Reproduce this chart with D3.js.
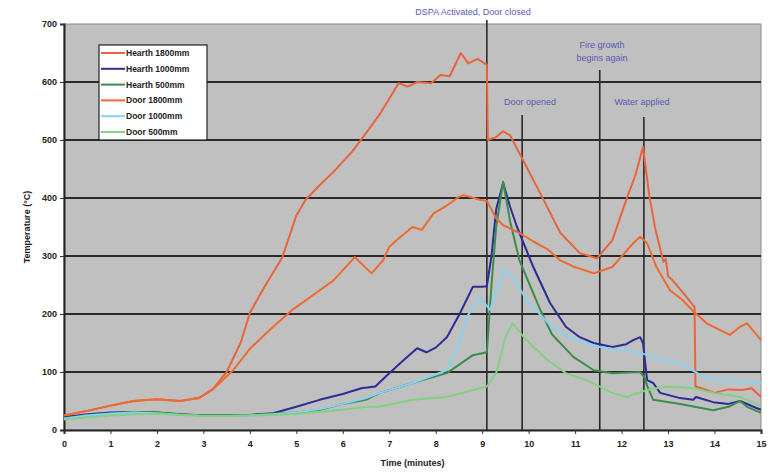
<!DOCTYPE html>
<html>
<head>
<meta charset="utf-8">
<script src="https://cdn.jsdelivr.net/npm/d3@7"></script>
<style>
body { margin: 0; background: #fff; }
svg text { font-family: "Liberation Sans", Arial, sans-serif; }
</style>
</head>
<body>
<svg id="chart" width="773" height="473"></svg>
<script>
const hearth1800 = [[0,25],[0.5,33],[1,42],[1.5,50],[2,53],[2.5,50],[2.9,55],[3.2,70],[3.5,100],[3.8,150],[4.0,202],[4.3,245],[4.7,298],[5.0,370],[5.2,397],[5.5,422],[5.8,445],[6.2,480],[6.5,512],[6.8,545],[7.2,598],[7.4,592],[7.6,600],[7.9,598],[8.1,612],[8.3,610],[8.54,650],[8.7,632],[8.9,640],[9.05,632],[9.1,630],[9.12,500],[9.3,505],[9.45,515],[9.6,508],[9.88,465],[10.25,408],[10.68,340],[11.1,305],[11.47,296],[11.8,327],[12.1,397],[12.3,440],[12.46,488],[12.6,402],[12.73,345],[12.9,290],[12.95,295],[13.0,265],[13.1,258],[13.4,229],[13.57,212],[13.59,75],[13.8,70],[14.0,64],[14.3,70],[14.6,69],[14.8,72],[15,57]]
const hearth1000 = [[0,22],[0.5,27],[1,30],[1.5,31],[2,30],[2.5,27],[3,25],[3.5,25],[4,26],[4.5,29],[5,40],[5.5,52],[6,62],[6.4,72],[6.7,75],[7.0,98],[7.3,120],[7.6,141],[7.8,134],[8.0,142],[8.24,160],[8.52,201],[8.8,247],[9.0,247],[9.1,248],[9.2,300],[9.3,380],[9.45,426],[9.6,385],[9.75,350],[10.1,281],[10.46,219],[10.8,178],[11.1,160],[11.4,150],[11.8,143],[12.1,148],[12.25,155],[12.4,160],[12.46,150],[12.55,86],[12.68,81],[12.83,64],[13.26,55],[13.54,52],[13.6,57],[13.97,48],[14.3,45],[14.55,50],[14.9,38],[15,35]]
const hearth500 = [[0,20],[0.5,26],[1,29],[1.5,31],[2,30],[2.5,27],[3,25],[3.5,25],[4,26],[4.5,28],[5,30],[5.5,35],[6,45],[6.5,52],[6.8,64],[7.5,81],[8.24,98],[8.8,129],[9.1,134],[9.2,250],[9.3,350],[9.45,428],[9.6,360],[9.8,293],[10.25,207],[10.5,165],[10.96,126],[11.4,103],[11.8,98],[12.4,100],[12.5,90],[12.55,76],[12.68,52],[13.26,45],[13.97,34],[14.3,40],[14.55,50],[14.7,40],[14.9,33],[15,30]]
const door1800 = [[0,25],[0.5,33],[1,42],[1.5,50],[2,53],[2.5,50],[2.9,55],[3.2,70],[3.64,103],[4.0,140],[4.5,178],[4.93,208],[5.4,235],[5.8,258],[6.26,298],[6.62,270],[6.87,293],[7.0,316],[7.2,330],[7.5,350],[7.7,345],[7.95,373],[8.2,385],[8.5,402],[8.6,405],[8.95,397],[9.1,395],[9.3,365],[9.45,353],[9.8,340],[10.1,325],[10.4,312],[10.67,293],[10.96,282],[11.4,270],[11.8,281],[12.25,322],[12.4,333],[12.55,322],[12.75,281],[13.04,241],[13.3,225],[13.54,205],[13.83,184],[14.33,164],[14.55,178],[14.7,184],[15,155]]
const door1000 = [[0,20],[0.5,25],[1,28],[1.5,30],[2,29],[2.5,26],[3,24],[3.5,24],[4,25],[4.5,27],[5,30],[5.5,36],[6,45],[6.5,55],[6.8,64],[7.5,81],[8.24,103],[8.5,150],[8.67,195],[8.95,229],[9.17,207],[9.3,240],[9.5,276],[9.67,264],[9.95,224],[10.5,178],[11.0,155],[11.53,143],[12.4,133],[12.68,126],[13.26,115],[13.7,95],[13.97,88],[14.55,83],[14.9,81],[15,80]]
const door500 = [[0,18],[0.5,22],[1,25],[1.5,27],[2,28],[2.5,26],[3,24],[3.5,24],[4,25],[4.5,26],[5,28],[5.5,31],[6,35],[6.5,40],[6.8,40],[7.5,52],[8.24,57],[8.8,69],[9.1,75],[9.3,98],[9.5,160],[9.65,184],[9.95,155],[10.4,121],[10.8,98],[11.25,86],[11.8,64],[12.1,57],[12.55,69],[12.98,75],[13.54,72],[13.97,64],[14.55,57],[14.9,45],[15,42]]

const seriesNames = ['Hearth 1800mm', 'Hearth 1000mm', 'Hearth 500mm', 'Door 1800mm', 'Door 1000mm', 'Door 500mm']
const seriesData = [hearth1800, hearth1000, hearth500, door1800, door1000, door500]
const seriesColors = ['#e8643c', '#2c2c96', '#3c8c4c', '#ee6a30', '#86d2f0', '#84d084']

const xTicks = d3.range(0, 16)
const yTicks = [0, 100, 200, 300, 400, 500, 600, 700]
const eventTimes = [9.1, 9.86, 11.53, 12.48]
const eventTops = [20, 115, 70, 117]
const eventLabels = [['DSPA  Activated, Door closed'], ['Door opened'], ['Fire growth', 'begins again'], ['Water applied']]

const svg = d3.select('#chart')
const m = { top: 24, left: 64, right: 12, bottom: 43 }
const w = 773, h = 473
const x = d3.scaleLinear().domain([0, 15]).range([m.left, w - m.right])
const y = d3.scaleLinear().domain([0, 700]).range([h - m.bottom, m.top])

// plot area
svg.append('rect').attr('x', x(0)).attr('y', y(700)).attr('width', x(15) - x(0)).attr('height', y(0) - y(700))
  .attr('fill', '#c0c0c0').attr('stroke', '#8a8a8a').attr('stroke-width', 1)

svg.append('g').selectAll('line').data(yTicks.filter(d => d > 0 && d < 700)).enter().append('line')
  .attr('x1', x(0)).attr('x2', x(15)).attr('y1', d => y(d)).attr('y2', d => y(d))
  .attr('stroke', '#2a2a2a').attr('stroke-width', 2)

// axes
const yAxis = svg.append('g').attr('transform', `translate(${x(0)},0)`)
  .call(d3.axisLeft(y).tickValues(yTicks).tickSize(4).tickFormat(d3.format('d')))
const xAxis = svg.append('g').attr('transform', `translate(0,${y(0)})`)
  .call(d3.axisBottom(x).tickValues(xTicks).tickSize(4).tickFormat(d3.format('d')))
;[yAxis, xAxis].forEach(a => {
  a.select('.domain').attr('stroke', '#222').attr('stroke-width', 2)
  a.selectAll('.tick line').attr('stroke', '#333')
  a.selectAll('text').attr('font-size', 9).attr('font-weight', 'bold').attr('fill', '#222')
})
xAxis.selectAll('text').attr('dy', '1.1em')

// event lines
svg.append('g').selectAll('line').data(eventTimes).enter().append('line')
  .attr('x1', d => x(d)).attr('x2', d => x(d)).attr('y1', (d, i) => eventTops[i]).attr('y2', y(0))
  .attr('stroke', '#2a2a2a').attr('stroke-width', 1.6)

// series
const line = d3.line().x(d => x(d[0])).y(d => y(d[1]))
svg.append('g').selectAll('path').data(seriesData).enter().append('path')
  .attr('d', line).attr('fill', 'none').attr('stroke', (d, i) => seriesColors[i]).attr('stroke-width', 2)
  .attr('stroke-linejoin', 'round')

// event labels
const labelPos = [[473, 15], [530, 105], [602, 48], [642, 105]]
eventLabels.forEach((lines, i) => {
  const t = svg.append('text').attr('x', labelPos[i][0]).attr('y', labelPos[i][1])
    .attr('text-anchor', 'middle').attr('font-size', 9).attr('fill', '#5a5ab4')
  lines.forEach((s, j) => t.append('tspan').attr('x', labelPos[i][0]).attr('dy', j ? 13 : 0).text(s))
})

// legend
const lg = svg.append('g').attr('transform', 'translate(99,45)')
lg.append('rect').attr('width', 108).attr('height', 95).attr('fill', '#fff').attr('stroke', '#222').attr('stroke-width', 1.2)
seriesNames.forEach((n, i) => {
  const yy = 8 + i * 15.8
  lg.append('line').attr('x1', 2).attr('x2', 26).attr('y1', yy).attr('y2', yy).attr('stroke', seriesColors[i]).attr('stroke-width', 2)
  lg.append('text').attr('x', 27).attr('y', yy + 3).attr('font-size', 8.5).attr('font-weight', 'bold').attr('fill', '#222').text(n)
})

// axis titles
svg.append('text').attr('x', (x(0) + x(15)) / 2 + 0).attr('y', 466).attr('text-anchor', 'middle')
  .attr('font-size', 9).attr('font-weight', 'bold').attr('fill', '#222').text('Time (minutes)')
svg.append('text').attr('transform', `translate(30,${(y(0) + y(700)) / 2}) rotate(-90)`).attr('text-anchor', 'middle')
  .attr('font-size', 9).attr('font-weight', 'bold').attr('fill', '#222').text('Temperature (°C)')
</script>
</body>
</html>
